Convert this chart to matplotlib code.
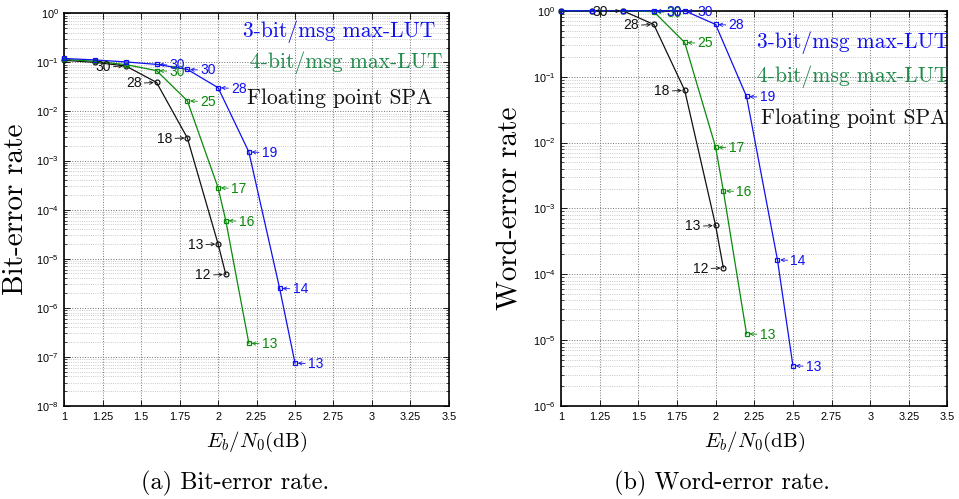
import matplotlib
matplotlib.use("Agg")
import matplotlib.pyplot as plt
from matplotlib.ticker import LogLocator, FixedLocator, NullFormatter

plt.rcParams['font.family'] = ['Liberation Sans', 'DejaVu Sans']
plt.rcParams['mathtext.fontset'] = 'cm'
plt.rcParams['axes.unicode_minus'] = False

# ---------------- data ----------------
# Bit-error rate (left)
ber_x3 = [1.0, 1.2, 1.4, 1.6, 1.8, 2.0, 2.2, 2.4, 2.5]
ber_y3 = [0.12, 0.112, 0.102, 0.091, 0.072, 0.0305, 1.5e-3, 2.5e-6, 7.5e-8]
ber_l3 = [None, None, None, '30', '30', '28', '19', '14', '13']

ber_x4 = [1.0, 1.2, 1.4, 1.6, 1.8, 2.0, 2.05, 2.2]
ber_y4 = [0.115, 0.105, 0.09, 0.068, 0.0165, 2.8e-4, 6e-5, 1.9e-7]
ber_l4 = [None, None, None, '30', '25', '17', '16', '13']

ber_xf = [1.0, 1.2, 1.4, 1.6, 1.8, 2.0, 2.05]
ber_yf = [0.11, 0.1, 0.0845, 0.039, 2.9e-3, 2.0e-5, 4.8e-6]
ber_lf = [None, None, '30', '28', '18', '13', '12']

# Word-error rate (right)
wer_x3 = [1.0, 1.2, 1.4, 1.6, 1.8, 2.0, 2.2, 2.4, 2.5]
wer_y3 = [1.0, 1.0, 1.0, 1.0, 1.0, 0.62, 0.05, 1.66e-4, 4.1e-6]
wer_l3 = [None, None, None, '30', '30', '28', '19', '14', '13']

wer_x4 = [1.0, 1.2, 1.4, 1.6, 1.8, 2.0, 2.05, 2.2]
wer_y4 = [1.0, 1.0, 1.0, 0.97, 0.33, 8.5e-3, 1.85e-3, 1.25e-5]
wer_l4 = [None, None, None, '30', '25', '17', '16', '13']

wer_xf = [1.0, 1.2, 1.4, 1.6, 1.8, 2.0, 2.05]
wer_yf = [1.0, 1.0, 1.0, 0.62, 0.062, 5.5e-4, 1.25e-4]
wer_lf = [None, None, '30', '28', '18', '13', '12']

x_ticks = [1, 1.25, 1.5, 1.75, 2, 2.25, 2.5, 2.75, 3, 3.25, 3.5]
x_ticklabels = ['1', '1.25', '1.5', '1.75', '2', '2.25', '2.5', '2.75', '3', '3.25', '3.5']

legend_texts = ['3-bit/msg max-LUT', '4-bit/msg max-LUT', 'Floating point SPA']

BLUE = '#1010f0'
GREEN = '#0a8a0a'
GREEN_TXT = '#1f8a4a'
BLACK = '#111111'

fig = plt.figure(figsize=(9.59, 4.99), dpi=100)

def setup(ax, ylim, ylabel, ylab_x):
    ax.set_yscale('log')
    ax.set_xlim(1, 3.5)
    ax.set_ylim(*ylim)
    ax.xaxis.set_major_locator(FixedLocator(x_ticks))
    ax.set_xticklabels(x_ticklabels)
    ax.yaxis.set_major_locator(LogLocator(base=10, numticks=20))
    ax.yaxis.set_minor_locator(LogLocator(base=10, subs=range(2, 10), numticks=20))
    ax.yaxis.set_minor_formatter(NullFormatter())
    ax.tick_params(which='both', direction='in', top=True, right=True,
                   labelsize=7.8, pad=4)
    ax.tick_params(which='major', length=4, width=0.6)
    ax.tick_params(which='minor', length=2, width=0.5)
    ax.grid(True, which='major', linestyle=':', color='0.45', lw=0.7)
    ax.grid(True, which='minor', linestyle=':', color='0.72', lw=0.6)
    for s in ax.spines.values():
        s.set_linewidth(1.2)
    ax.set_xlabel(r'$E_b/N_0\mathrm{(dB)}$', fontsize=15, labelpad=6)
    ax.set_ylabel(ylabel, fontfamily='cmr10', fontsize=21)
    ax.yaxis.set_label_coords(ylab_x, 0.5)

def series(ax, xs, ys, labels, color, marker, side):
    ax.plot(xs, ys, color=color, lw=0.9, marker=marker, ms=3.5,
            mfc='none', mec=color, mew=0.9, clip_on=False, zorder=3)
    for x, y, lab in zip(xs, ys, labels):
        if lab is None:
            continue
        if side == 'right':
            ax.annotate(lab, xy=(x, y), xytext=(13, -1), textcoords='offset pixels',
                        ha='left', va='center', fontsize=10, color=color,
                        arrowprops=dict(arrowstyle='->', color=color, lw=0.6,
                                        shrinkA=0, shrinkB=2, mutation_scale=6),
                        zorder=4)
        else:
            ax.annotate(lab, xy=(x, y), xytext=(-15, -1), textcoords='offset pixels',
                        ha='right', va='center', fontsize=10, color=color,
                        arrowprops=dict(arrowstyle='->', color=color, lw=0.6,
                                        shrinkA=0, shrinkB=2, mutation_scale=6),
                        zorder=4)

# ---------- left: BER ----------
axL = fig.add_axes([0.067, 0.1864, 0.401, 0.787])
setup(axL, (1e-8, 1), 'Bit-error rate', -0.092)
series(axL, ber_xf, ber_yf, ber_lf, BLACK, 'o', 'left')
series(axL, ber_x4, ber_y4, ber_l4, GREEN, 's', 'right')
series(axL, ber_x3, ber_y3, ber_l3, BLUE, 's', 'right')
axL.text(0.964, 0.952, legend_texts[0], transform=axL.transAxes, ha='right', va='center',
         fontfamily='cmr10', fontsize=15.5, color=BLUE)
axL.text(0.984, 0.873, legend_texts[1], transform=axL.transAxes, ha='right', va='center',
         fontfamily='cmr10', fontsize=15.5, color=GREEN_TXT)
axL.text(0.958, 0.784, legend_texts[2], transform=axL.transAxes, ha='right', va='center',
         fontfamily='cmr10', fontsize=15.5, color=BLACK)

# ---------- right: WER ----------
axR = fig.add_axes([0.585, 0.1864, 0.403, 0.792])
setup(axR, (1e-6, 1), 'Word-error rate', -0.100)
series(axR, wer_xf, wer_yf, wer_lf, BLACK, 'o', 'left')
series(axR, wer_x4, wer_y4, wer_l4, GREEN, 's', 'right')
series(axR, wer_x3, wer_y3, wer_l3, BLUE, 's', 'right')
axR.text(1.004, 0.918, legend_texts[0], transform=axR.transAxes, ha='right', va='center',
         fontfamily='cmr10', fontsize=15.5, color=BLUE, clip_on=True)
axR.text(1.004, 0.832, legend_texts[1], transform=axR.transAxes, ha='right', va='center',
         fontfamily='cmr10', fontsize=15.5, color=GREEN_TXT, clip_on=True)
axR.text(0.998, 0.728, legend_texts[2], transform=axR.transAxes, ha='right', va='center',
         fontfamily='cmr10', fontsize=15.5, color=BLACK, clip_on=True)

fig.text(0.245, 0.032, '(a) Bit-error rate.', ha='center', va='center',
         fontfamily='cmr10', fontsize=17.5)
fig.text(0.753, 0.032, '(b) Word-error rate.', ha='center', va='center',
         fontfamily='cmr10', fontsize=17.5)

fig.savefig('out.png', dpi=100)
